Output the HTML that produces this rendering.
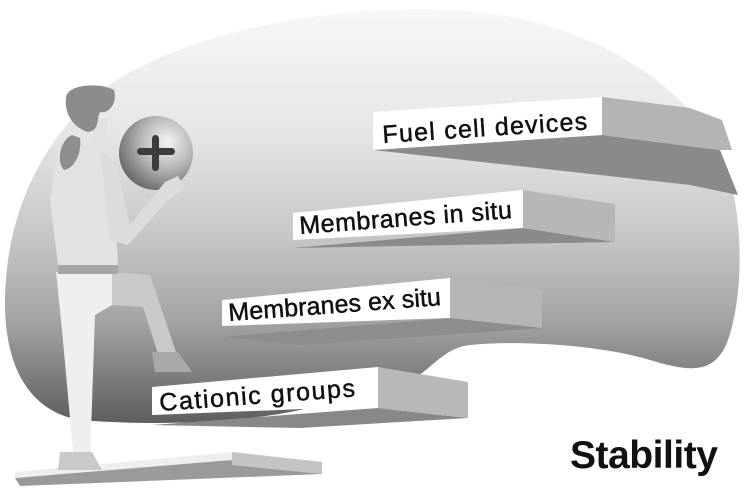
<!DOCTYPE html>
<html><head><meta charset="utf-8"><style>
html,body{margin:0;padding:0;background:#fff;}
svg{display:block;}
text{font-family:"Liberation Sans",sans-serif;fill:#111;}
.l{font-size:25px;stroke:#111;stroke-width:0.5px;}
</style></head><body>
<svg width="750" height="488" viewBox="0 0 750 488" xmlns="http://www.w3.org/2000/svg">
<defs>
<linearGradient id="bg" x1="0" y1="0" x2="0" y2="1">
<stop offset="0" stop-color="#f7f7f7"/>
<stop offset="0.3" stop-color="#e6e6e6"/>
<stop offset="0.55" stop-color="#c6c6c6"/>
<stop offset="0.75" stop-color="#a6a3a3"/>
<stop offset="1" stop-color="#5e5e5e"/>
</linearGradient>
<radialGradient id="ball" cx="0.65" cy="0.35" r="0.7">
<stop offset="0" stop-color="#f4f4f4"/>
<stop offset="0.5" stop-color="#b8b8b8"/>
<stop offset="1" stop-color="#6a6a6a"/>
</radialGradient>
</defs>
<path d="M120,78 C200,30 330,5 450,10 C580,15 690,80 728,170 C745,230 742,300 728,340 C715,375 690,372 650,360 C600,345 520,340 470,345 C440,348 430,375 400,385 L300,410 C230,425 140,425 80,420 C20,410 0,350 6,280 C12,190 60,115 120,78 Z" fill="url(#bg)"/>
<polygon points="373,150 602,135 720,150 738,195 690,185" fill="#8a8a8a"/>
<polygon points="602,97 690,108 722,120 732,150 720,150 602,135" fill="#b4b4b4"/>
<polygon points="373,112 602,97 602,135 373,150" fill="#fff"/>
<text class="l" x="383" y="143" transform="rotate(-3.8 383 143)" textLength="205">Fuel cell devices</text>
<polygon points="293,248 523,228 615,242" fill="#8a8a8a"/>
<polygon points="523,190 615,204 615,242 523,228" fill="#b7b7b7"/>
<polygon points="293,213 523,190 523,228 293,240" fill="#fff"/>
<text class="l" x="300" y="234" transform="rotate(-4.3 300 234)" textLength="213">Membranes in situ</text>
<polygon points="222,337 450,318 542,328 300,345" fill="#8e8c8c"/>
<polygon points="450,278 542,290 542,328 450,318" fill="#b5b5b5"/>
<polygon points="222,300 450,278 450,318 222,326" fill="#fff"/>
<text class="l" x="229" y="321" transform="rotate(-4.3 229 321)" textLength="213">Membranes ex situ</text>
<polygon points="152,425 378,408 468,418 300,428" fill="#888"/>
<polygon points="378,367 468,382 468,418 378,408" fill="#b8b8b8"/>
<polygon points="152,387 378,367 378,406 152,415" fill="#fff"/>
<text class="l" x="160" y="411" transform="rotate(-4.3 160 411)" textLength="196">Cationic groups</text>
<polygon points="15,478 232,458 322,462 322,474 20,486" fill="#9a9a9a"/>
<polygon points="15,472 232,452 322,462 232,460 15,478" fill="#eeeeee"/>
<polygon points="232,452 322,462 322,474 232,465" fill="#c4c4c4"/>
<path d="M110,272 L150,275 L177,355 L160,360 L143,307 L110,305 Z" fill="#c9c9c9"/>
<path d="M152,352 L178,352 L192,372 L155,372 Z" fill="#a9a9a9"/>
<path d="M56,272 L112,272 L112,305 L95,315 L90,462 L74,462 L62,330 Z" fill="#efefef"/>
<path d="M60,452 L92,452 L102,470 L58,470 Z" fill="#c9c9c9"/>
<polygon points="58,262 118,262 118,274 58,274" fill="#a6a6a6"/>
<path d="M58,148 L102,140 L112,160 L118,265 L58,265 L50,200 Z" fill="#e2e2e2"/>
<polygon points="93,118 108,118 106,150 93,150" fill="#e2e2e2"/>
<path d="M72,135 C60,140 56,162 64,170 C76,168 82,150 80,138 Z" fill="#8e8e8e"/>
<path d="M66,98 C66,84 100,82 114,90 C118,104 108,114 100,112 C96,120 100,130 88,132 C74,128 64,114 66,98 Z" fill="#8c8c8c"/>
<circle cx="156" cy="153" r="37" fill="url(#ball)"/>
<rect x="152" y="135" width="7" height="36" rx="3.5" fill="#3c3c3c"/>
<rect x="137" y="148" width="38" height="7" rx="3.5" fill="#3c3c3c"/>
<path d="M100,150 L115,160 L130,225 L165,182 L178,176 L185,188 L168,200 L128,245 L110,240 Z" fill="#dcdcdc"/>
<text x="570" y="468" font-size="39" font-weight="bold" fill="#1a1a1a" textLength="148">Stability</text>
</svg>
</body></html>
